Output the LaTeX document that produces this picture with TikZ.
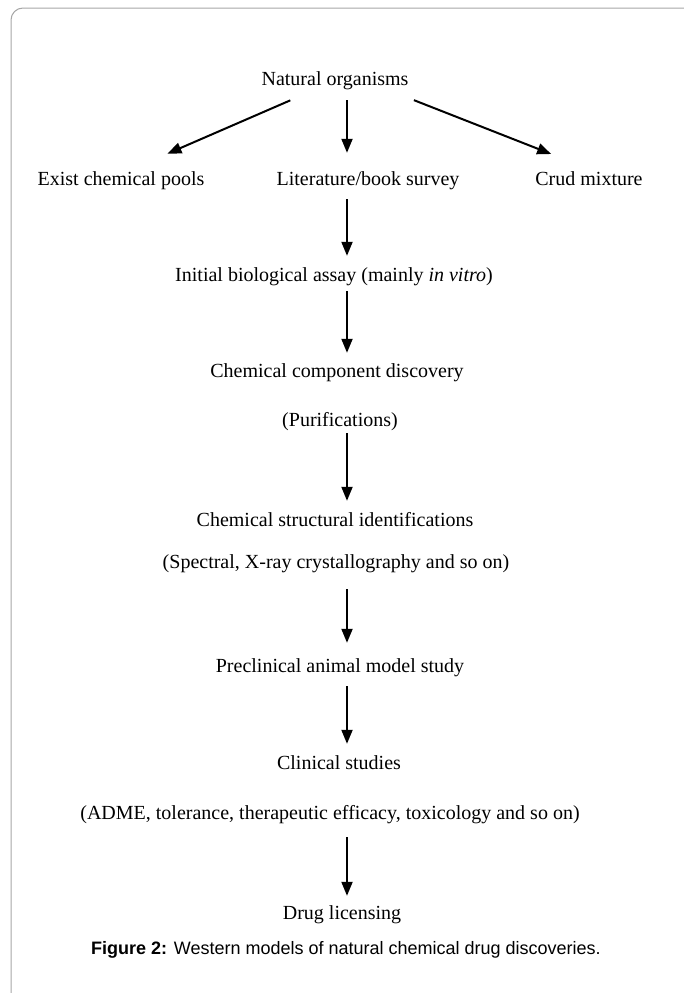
\documentclass[tikz,border=0pt]{standalone}
\usepackage{fontspec}
\setmainfont{Liberation Serif}
\newfontfamily\capfont{Liberation Sans}
\usetikzlibrary{arrows.meta}

\tikzset{
  stage/.style={inner sep=0pt, text height=14pt, text depth=4pt,
    font=\fontsize{20}{24}\selectfont},
  flow/.style={line width=2pt, -{Triangle[length=14pt,width=11pt]},
    shorten <=10pt, shorten >=11pt},
  frame/.style={draw=black!35, line width=1pt, rounded corners=12pt}
}

\begin{document}
\begin{tikzpicture}[x=1pt,y=-1pt]
  \useasboundingbox (0,0) rectangle (683,993);
  \draw[frame] (684,8) -- (11,8) -- (11,994);
  \coordinate (ax) at (347,0);
  % sources
  \node[stage] (nat) at (335,80) {Natural organisms};
  \node[stage] (pools) at (121,180) {Exist chemical pools};
  \node[stage] (survey) at (368,180) {Literature/book survey};
  \node[stage] (crud) at (589,180) {Crud mixture};
  % main chain
  \node[stage] (assay) at (334,276) {Initial biological assay (mainly \textit{in vitro})};
  \node[stage] (discov) at (337,372) {Chemical component discovery};
  \node[stage] (purif) at (340,421) {(Purifications)};
  \node[stage] (struct) at (335,521) {Chemical structural identifications};
  \node[stage] (spectral) at (336,563) {(Spectral, X-ray crystallography and so on)};
  \node[stage] (preclin) at (340,667) {Preclinical animal model study};
  \node[stage] (clinic) at (339,764) {Clinical studies};
  \node[stage] (adme) at (330,814) {(ADME, tolerance, therapeutic efficacy, toxicology and so on)};
  \node[stage] (licens) at (342,914) {Drug licensing};
  \node[font=\capfont\fontsize{18}{21}\selectfont] (caption) at (346,950)
    {\textbf{Figure 2:} Western models of natural chemical drug discoveries.};

  \draw[flow, shorten <=28pt, shorten >=43pt] ([xshift=-19pt]nat.south) -- ([xshift=7pt]pools.north);
  \draw[flow, shorten <=11pt, shorten >=18pt] (nat.south -| ax) -- (survey.north -| ax);
  \draw[flow, shorten <=30pt, shorten >=46pt] ([xshift=51pt]nat.south) -- ([xshift=5pt]crud.north);
  \draw[flow] (survey.south -| ax) -- (assay.north -| ax);
  \draw[flow, shorten <=6pt, shorten >=10pt] (assay.south -| ax) -- (discov.north -| ax);
  \draw[flow, shorten <=3pt] (purif.south -| ax) -- (struct.north -| ax);
  \draw[flow, shorten <=17pt, shorten >=15pt] (spectral.south -| ax) -- (preclin.north -| ax);
  \draw[flow] (preclin.south -| ax) -- (clinic.north -| ax);
  \draw[flow, shorten <=14pt, shorten >=9pt] (adme.south -| ax) -- (licens.north -| ax);
\end{tikzpicture}
\end{document}
